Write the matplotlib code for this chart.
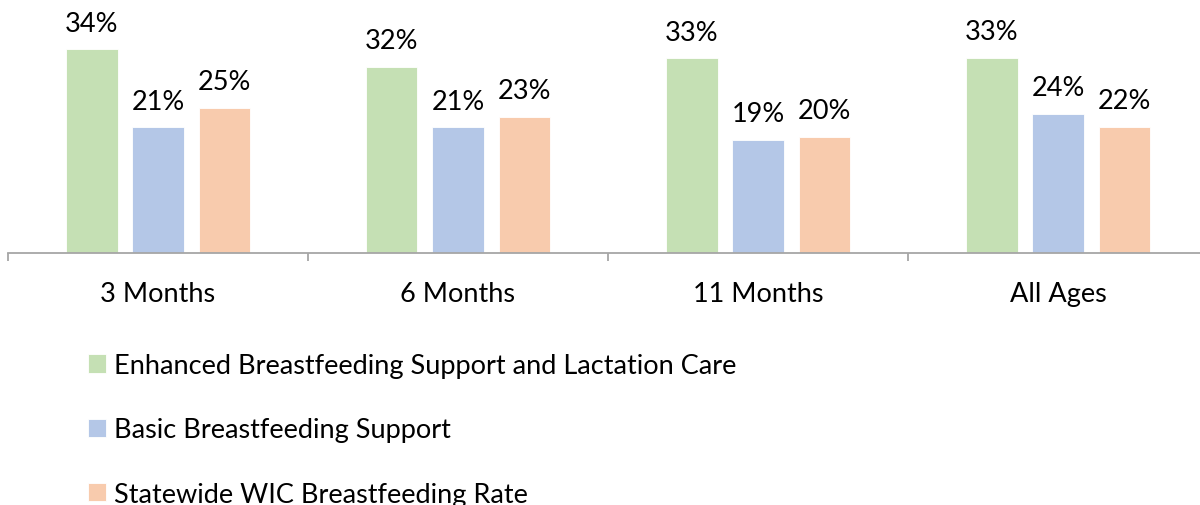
import numpy as np
import matplotlib.pyplot as plt

# bar heights, labels as printed
categories = ['3 Months', '6 Months', '11 Months', 'All Ages']
series = ['Enhanced Breastfeeding Support and Lactation Care',
          'Basic Breastfeeding Support',
          'Statewide WIC Breastfeeding Rate']
enhanced = [34.0, 31.1, 32.5, 32.6]
basic = [21.0, 21.0, 18.9, 23.2]
statewide = [24.3, 22.8, 19.4, 21.1]
enhanced_lbl = ['34%', '32%', '33%', '33%']
basic_lbl = ['21%', '21%', '19%', '24%']
statewide_lbl = ['25%', '23%', '20%', '22%']

colors = ['#C5E0B4', '#B4C7E7', '#F8CBAD']
font = 'Lato'
fs = 19.5

fig = plt.figure(figsize=(12, 5.06), dpi=100)
ax = fig.add_axes([8 / 1200, (506 - 254.3) / 506, 1.0, 240 / 506])

x = np.arange(len(categories))
pitch = 0.221
width = 0.172
data = [enhanced, basic, statewide]
labels = [enhanced_lbl, basic_lbl, statewide_lbl]
for i in range(3):
    bars = ax.bar(x + (i - 1) * pitch, data[i], width, color=colors[i],
                  edgecolor='white', linewidth=0.6, label=series[i])
    for b, t in zip(bars, labels[i]):
        ax.annotate(t, (b.get_x() + b.get_width() / 2, b.get_height()),
                    xytext=(0, 13.5), textcoords='offset points',
                    ha='center', va='baseline', fontsize=fs,
                    family=font, color='black')

ax.set_xlim(-0.5, 3.5)
ax.set_ylim(0, 40)
ax.set_yticks([])
for s in ['top', 'right', 'left']:
    ax.spines[s].set_visible(False)
ax.spines['bottom'].set_color('#A6A6A6')
ax.spines['bottom'].set_linewidth(1.3)

ax.set_xticks(x)
ax.set_xticklabels(categories, family=font, fontsize=fs)
ax.tick_params(axis='x', which='major', length=0, pad=20)
ax.set_xticks(np.arange(-0.5, 4.0, 1.0), minor=True)
ax.tick_params(axis='x', which='minor', length=6, width=1.3, color='#A6A6A6')

fig.legend(loc='upper left', bbox_to_anchor=(88 / 1200, (506 - 354) / 506),
           frameon=False, prop={'family': font, 'size': fs},
           handlelength=0.65, handleheight=0.65, handletextpad=0.3,
           labelspacing=1.45, borderpad=0, borderaxespad=0)

fig.savefig('out.png', dpi=100)
